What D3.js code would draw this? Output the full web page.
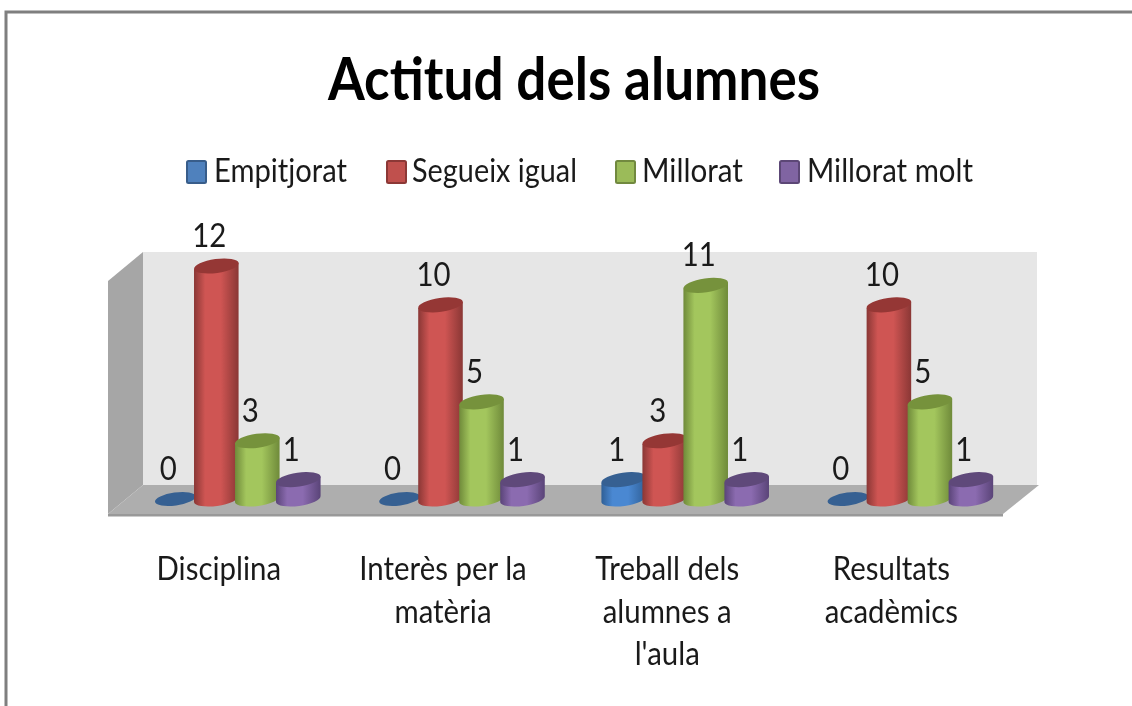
<!DOCTYPE html>
<html><head><meta charset="utf-8">
<style>html,body{margin:0;padding:0;background:#fff;overflow:hidden}svg{display:block;filter:blur(0.7px)}text{font-family:Lato,"Noto Sans",sans-serif;fill:#1a1a1a}</style>
<script src="https://cdn.jsdelivr.net/npm/d3@7"></script></head><body><svg id="c" width="1132" height="706"></svg>
<script>
const title = "Actitud dels alumnes";
const categories = ["Disciplina","Interès per la matèria","Treball dels alumnes a l'aula","Resultats acadèmics"];
const categoryLines = [["Disciplina"],["Interès per la","matèria"],["Treball dels","alumnes a","l'aula"],["Resultats","acadèmics"]];
const seriesNames = ["Empitjorat","Segueix igual","Millorat","Millorat molt"];
const empitjorat = [0,0,1,0];
const segueixIgual = [12,10,3,10];
const millorat = [3,5,11,5];
const milloratMolt = [1,1,1,1];
const seriesValues = [empitjorat,segueixIgual,millorat,milloratMolt];
const faceMid = ["#4a88d2","#cf5553","#a3c65d","#8b6bb0"];
const faceEdge = ["#2f5f96","#8a3735","#6f8a3a","#5a4478"];
const topColor = ["#366092","#953735","#76923c","#5f497a"];
const legendFill = ["#4f81bd","#c0504d","#9bbb59","#8064a2"];
const legendStroke = ["#385d8a","#8c3836","#71893f","#5c4776"];

const svg = d3.select("#c");
const defs = svg.append("defs");
const x = d3.scaleBand().domain(categories).range([124.7,1021.5]);
const sub = d3.scalePoint().domain(seriesNames).range([-61.5,61.5]);
const y = d3.scaleLinear().domain([0,12]).range([499,266]);
const rx = 22.5, ry = 7, tilt = -8;
const dx = rx*Math.cos(tilt*Math.PI/180), dy = rx*Math.sin(tilt*Math.PI/180);
const squeeze = 0.92;

seriesNames.forEach((s,i)=>{
  const g = defs.append("linearGradient").attr("id","g"+i);
  [[0,faceEdge[i]],[.25,faceMid[i]],[.6,faceMid[i]],[1,faceEdge[i]]].forEach(([o,c])=>g.append("stop").attr("offset",o).attr("stop-color",c));
});

// page frame
svg.append("path").attr("d","M6,706V12H1132").attr("fill","none").attr("stroke","#7f7f7f").attr("stroke-width",3);

// title
svg.append("text").attr("x",574).attr("y",100).attr("text-anchor","middle").attr("font-size",60).attr("font-weight",700)
  .attr("textLength",492).attr("lengthAdjust","spacingAndGlyphs").style("fill","#000").text(title);

// legend
const legX = [186,386,615,779], legTx=[214,412,642,807], legW=[133,165,101,166];
seriesNames.forEach((s,i)=>{
  svg.append("rect").attr("x",legX[i]+1).attr("y",161).attr("width",19).attr("height",22).attr("rx",1.5)
    .attr("fill",legendFill[i]).attr("stroke",legendStroke[i]).attr("stroke-width",2);
  svg.append("text").attr("x",legTx[i]).attr("y",182).attr("font-size",32)
    .attr("textLength",legW[i]).attr("lengthAdjust","spacingAndGlyphs").text(s);
});

// 3D walls
svg.append("polygon").attr("points","143,252 1037,252 1037,485 143,485").attr("fill","#e6e6e6");
svg.append("polygon").attr("points","108,281 143,252 143,485 108,514").attr("fill","#a6a6a6");
svg.append("polygon").attr("points","143,485 1039,485 1003,514 108,514").attr("fill","#aeaeae");
svg.append("polygon").attr("points","108,514 1003,514 1003,516.5 108,516.5").attr("fill","#999999");

// cylinders
seriesNames.forEach((s,i)=>{
  categories.forEach((c,j)=>{
    const v = seriesValues[i][j], cx = x(c)+x.bandwidth()/2+sub(s), yb = y(0), yt = y(v);
    const g = svg.append("g");
    if(v>0){
      g.append("path").attr("fill",`url(#g${i})`)
       .attr("d",`M${cx-dx},${yt-dy}L${cx-dx},${yb-dy}A${rx},${ry} ${tilt} 0 0 ${cx+dx},${yb+dy}L${cx+dx},${yt+dy}Z`);
    }
    g.append("ellipse").attr("cx",cx).attr("cy",yt).attr("rx",v>0?rx:20.5).attr("ry",v>0?ry:6.5)
      .attr("transform",`rotate(${tilt} ${cx} ${yt})`).attr("fill",topColor[i]);
  });
});
// value labels
seriesNames.forEach((s,i)=>{
  categories.forEach((c,j)=>{
    const v = seriesValues[i][j], cx = x(c)+x.bandwidth()/2+sub(s);
    svg.append("text").attr("transform",`translate(${cx-7},${y(v)-19}) scale(${squeeze},1)`)
      .attr("text-anchor","middle").attr("font-size",32).text(v);
  });
});
// category labels
categories.forEach((c,j)=>{
  const cx = x(c)+x.bandwidth()/2-18;
  categoryLines[j].forEach((l,k)=>{
    svg.append("text").attr("transform",`translate(${cx},${580+k*42.5}) scale(${squeeze},1)`)
      .attr("text-anchor","middle").attr("font-size",32).text(l);
  });
});
</script></body></html>
